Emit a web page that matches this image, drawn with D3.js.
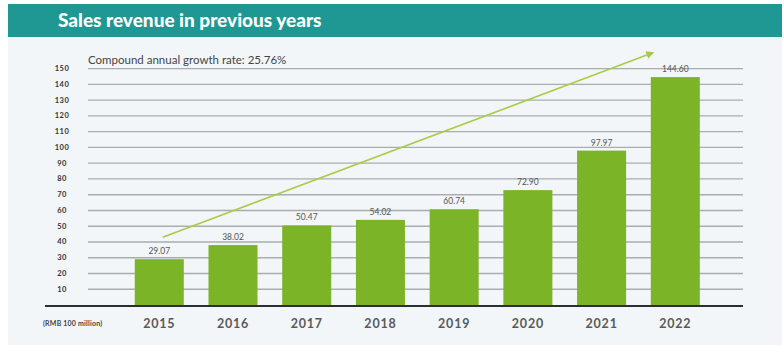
<!DOCTYPE html>
<html><head><meta charset="utf-8">
<script src="https://cdn.jsdelivr.net/npm/d3@7"></script>
<style>body{margin:0;background:#fff;}svg{display:block;}</style>
</head><body>
<svg id="c" width="784" height="347"></svg>
<script>
const years = ["2015","2016","2017","2018","2019","2020","2021","2022"];
const revenue = [29.07, 38.02, 50.47, 54.02, 60.74, 72.90, 97.97, 144.60];
const revenueLabels = ["29.07","38.02","50.47","54.02","60.74","72.90","97.97","144.60"];
const yTicks = [10,20,30,40,50,60,70,80,90,100,110,120,130,140,150];
const trendStart = ["2015", 43];
const trendEnd = ["2022", 160];
const title = "Sales revenue in previous years";
const cagrText = "Compound annual growth rate: 25.76%";
const unitText = "(RMB 100 million)";

const svg = d3.select("#c");
svg.append("rect").attr("x",8).attr("y",37).attr("width",774).attr("height",308).attr("fill","#f2f6f8");
svg.append("rect").attr("x",8).attr("y",4).attr("width",774).attr("height",33).attr("fill","#1f9792");
svg.append("text").attr("x",58).attr("y",27).attr("fill","#fff")
  .attr("font-family","Lato").attr("font-weight","900").attr("font-size",19).text(title);

const x = d3.scaleBand().domain(years).range([88,743]).paddingInner(0.335).paddingOuter(0.61).align(0.52);
const y = d3.scaleLinear().domain([0,150]).range([305,68.6]);

// gridlines
svg.append("g").selectAll("line").data(yTicks).join("line")
  .attr("x1",88).attr("x2",743).attr("y1",d=>y(d)).attr("y2",d=>y(d))
  .attr("stroke","#a9adb0").attr("stroke-width",1.4);

// y tick labels
svg.append("g").selectAll("text").data(yTicks).join("text")
  .attr("x",62).attr("y",d=>y(d)+2.5).attr("text-anchor","middle")
  .attr("font-family","Lato").attr("font-weight","bold").attr("font-size",7.5).attr("fill","#333")
  .attr("letter-spacing",0.5).text(d=>d);

// bars
svg.append("g").selectAll("rect").data(revenue).join("rect")
  .attr("x",(d,i)=>x(years[i])).attr("width",x.bandwidth())
  .attr("y",d=>y(d)).attr("height",d=>y(0)-y(d)).attr("fill","#7cb427");

// value labels
svg.append("g").selectAll("text").data(revenue).join("text")
  .attr("x",(d,i)=>x(years[i])+x.bandwidth()/2).attr("y",d=>y(d)-5)
  .attr("text-anchor","middle").attr("font-family","Lato").attr("font-size",8.5).attr("fill","#555")
  .text((d,i)=>revenueLabels[i]);

// axis
svg.append("line").attr("x1",45).attr("x2",743).attr("y1",306).attr("y2",306)
  .attr("stroke","#2b2f33").attr("stroke-width",2);

const xAxis = d3.axisBottom(x).tickSize(0).tickPadding(0);
const gx = svg.append("g").attr("transform","translate(0,318)").call(xAxis);
gx.select(".domain").remove();
gx.selectAll("text").attr("font-family","Lato").attr("font-weight","bold").attr("font-size",12.5)
  .attr("fill","#5a5a5a").attr("dy","0.8em").attr("letter-spacing",0.8);

svg.append("text").attr("x",43).attr("y",326).attr("font-family","Lato").attr("font-weight","bold")
  .attr("font-size",7).attr("fill","#444").attr("letter-spacing",0.2).text(unitText);

svg.append("text").attr("x",88).attr("y",64).attr("font-family","Lato")
  .attr("font-size",11.5).attr("fill","#444").text(cagrText);

// trend arrow
svg.append("defs").append("marker").attr("id","ah").attr("viewBox","0 0 10 10")
  .attr("refX",8).attr("refY",5).attr("markerWidth",5).attr("markerHeight",5).attr("orient","auto")
  .append("path").attr("d","M0,0L10,5L0,10z").attr("fill","#a8cc45");
const tx1 = x(trendStart[0]) + x.bandwidth()*0.57, tx2 = x(trendEnd[0]) + x.bandwidth()*0.04;
svg.append("line").attr("x1",tx1).attr("y1",y(trendStart[1])).attr("x2",tx2).attr("y2",y(trendEnd[1]))
  .attr("stroke","#a8cc45").attr("stroke-width",1.6).attr("marker-end","url(#ah)");
</script>
</body></html>
